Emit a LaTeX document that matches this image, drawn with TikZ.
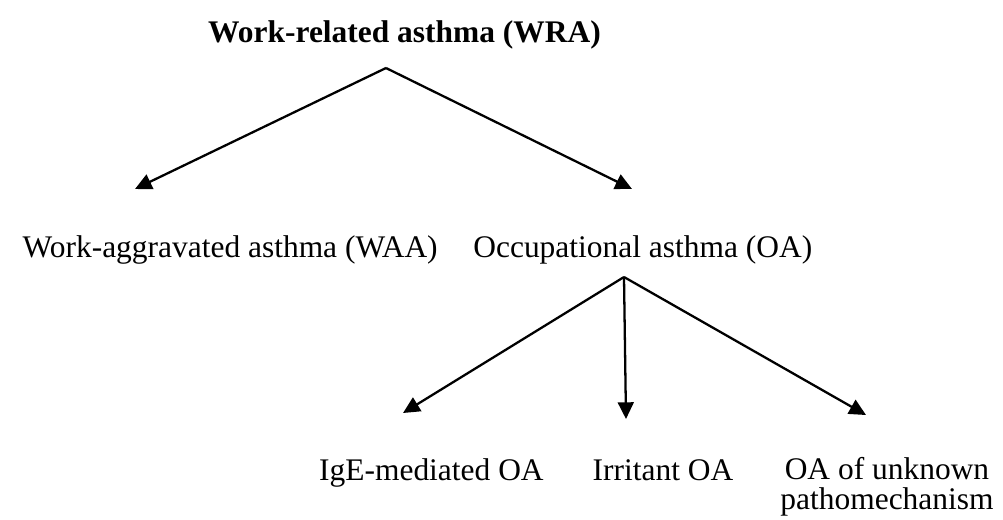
\documentclass[tikz,border=0pt]{standalone}
\usepackage{fontspec}
\setmainfont{Liberation Serif}
\usepackage{tikz}
\usetikzlibrary{arrows.meta}
\usetikzlibrary{positioning}
\tikzstyle{lbl}=[inner sep=0pt,font=\fontsize{17.9}{17.1}\selectfont]
\tikzstyle{arr}=[line width=1.3pt,-{Triangle[length=9.5pt,width=9pt]}]

\begin{document}
\begin{tikzpicture}
\useasboundingbox (0,0) rectangle (20.06,-10.38);

%top
\node[lbl,anchor=base,font=\fontsize{17.9}{17.1}\selectfont\bfseries] (wra) at (8.09,-0.84) {Work-related asthma (WRA)};

%second row
\node[lbl,anchor=base east] (waa) at (8.76,-5.15) {Work-aggravated asthma (WAA)};
\node[lbl,anchor=base west] (oa) at (9.46,-5.15) {Occupational asthma (OA)};

%third row
\node[lbl,anchor=base east] (ige) at (10.88,-9.6) {IgE-mediated OA};
\node[lbl,anchor=base] (irr) at (13.26,-9.6) {Irritant OA};
\node[lbl,anchor=base,align=center] (unk) at (17.74,-10.19) {OA of unknown\\pathomechanism};

%split points and arrow ends
\coordinate (wraSplit) at (7.72,-1.36);
\coordinate (waaEnd) at (2.70,-3.78);
\coordinate (oaEnd) at (12.64,-3.78);
\coordinate (oaSplit) at (12.48,-5.54);
\coordinate (igeEnd) at (8.06,-8.26);
\coordinate (irrEnd) at (12.52,-8.38);
\coordinate (unkEnd) at (17.32,-8.30);

\foreach \to in {waaEnd,oaEnd} {
	\draw[arr] (wraSplit) -- (\to);
}
\foreach \to in {igeEnd,irrEnd,unkEnd} {
	\draw[arr] (oaSplit) -- (\to);
}
\end{tikzpicture}
\end{document}
